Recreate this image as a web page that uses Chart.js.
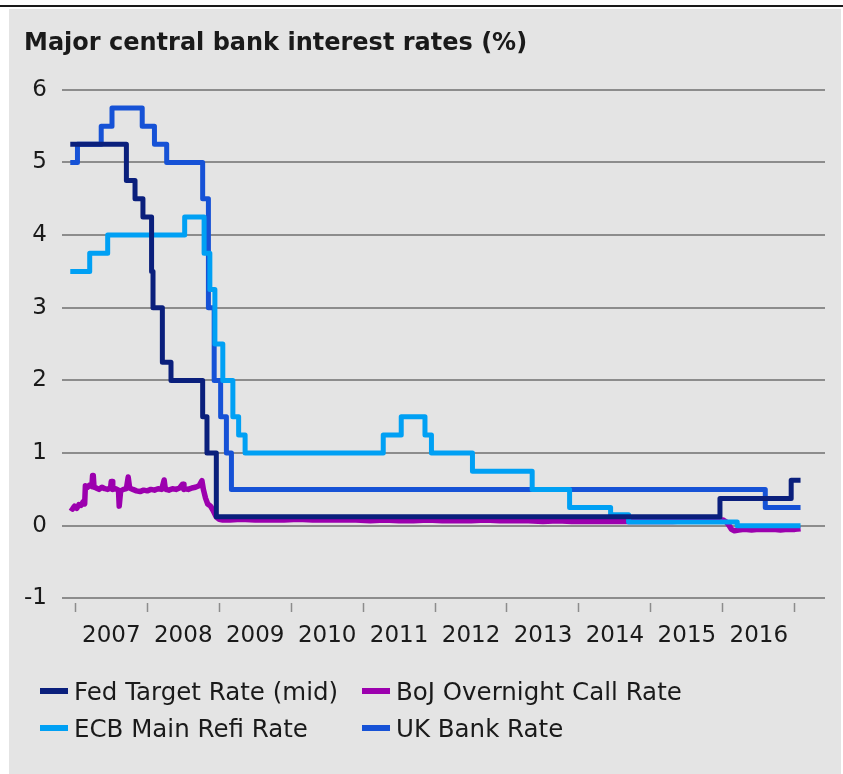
<!DOCTYPE html>
<html>
<head>
<meta charset="utf-8">
<script src="https://cdn.jsdelivr.net/npm/chart.js@4"></script>
<style>
  html, body { margin: 0; padding: 0; background: #fff; }
  #wrap { position: relative; width: 843px; height: 774px; }
  #legend {
    position: absolute; left: 40px; top: 677px;
    display: grid; grid-template-columns: 322px auto; row-gap: 9px;
    font-family: "DejaVu Sans", sans-serif; font-size: 24.5px; color: #1a1a1a;
  }
  .item { display: flex; align-items: center; height: 28px; white-space: nowrap; }
  .swatch { width: 28px; height: 6px; margin-right: 6px; }
</style>
</head>
<body>
<div id="wrap">
  <canvas id="myChart" width="843" height="774"></canvas>
  <div id="legend"></div>
</div>
<script>
// x values are decimal years (2008.5 = mid 2008)
const years = [2007, 2008, 2009, 2010, 2011, 2012, 2013, 2014, 2015, 2016, 2017];

// Fed Target Rate (mid) - date of change, new rate
const fedDates = [2006.93, 2007.71, 2007.83, 2007.94, 2008.06, 2008.08, 2008.21, 2008.33, 2008.77, 2008.83, 2008.96, 2015.96, 2016.95, 2017.08];
const fedRates = [5.25, 4.75, 4.5, 4.25, 3.5, 3.0, 2.25, 2.0, 1.5, 1.0, 0.125, 0.375, 0.625, 0.625];

// ECB Main Refi Rate
const ecbDates = [2006.93, 2007.20, 2007.45, 2008.52, 2008.79, 2008.87, 2008.94, 2009.05, 2009.19, 2009.27, 2009.36, 2011.28, 2011.53, 2011.86, 2011.95, 2012.52, 2013.35, 2013.87, 2014.44, 2014.69, 2016.20, 2017.08];
const ecbRates = [3.5, 3.75, 4.0, 4.25, 3.75, 3.25, 2.5, 2.0, 1.5, 1.25, 1.0, 1.25, 1.5, 1.25, 1.0, 0.75, 0.5, 0.25, 0.15, 0.05, 0.0, 0.0];

// UK Bank Rate
const ukDates = [2006.93, 2007.03, 2007.36, 2007.51, 2007.93, 2008.10, 2008.27, 2008.77, 2008.85, 2008.93, 2009.02, 2009.10, 2009.17, 2016.59, 2017.08];
const ukRates = [5.0, 5.25, 5.5, 5.75, 5.5, 5.25, 5.0, 4.5, 3.0, 2.0, 1.5, 1.0, 0.5, 0.25, 0.25];

// BoJ Overnight Call Rate (noisy market rate)
const bojDates = [2006.93, 2006.96, 2006.99, 2007.02, 2007.05, 2007.08, 2007.11, 2007.13, 2007.14, 2007.17, 2007.20, 2007.23, 2007.24, 2007.25, 2007.26, 2007.29, 2007.33, 2007.37, 2007.41, 2007.45, 2007.49, 2007.50, 2007.51, 2007.52, 2007.56, 2007.60, 2007.61, 2007.62, 2007.63, 2007.67, 2007.71, 2007.735, 2007.745, 2007.755, 2007.80, 2007.85, 2007.90, 2007.95, 2008.00, 2008.05, 2008.10, 2008.15, 2008.20, 2008.235, 2008.24, 2008.25, 2008.26, 2008.30, 2008.35, 2008.40, 2008.45, 2008.49, 2008.50, 2008.51, 2008.52, 2008.57, 2008.62, 2008.67, 2008.72, 2008.76, 2008.78, 2008.81, 2008.84, 2008.88, 2008.92, 2008.96, 2009.00, 2009.05, 2009.15, 2009.30, 2009.50, 2009.70, 2009.90, 2010.10, 2010.30, 2010.50, 2010.70, 2010.90, 2011.10, 2011.30, 2011.50, 2011.70, 2011.90, 2012.10, 2012.30, 2012.50, 2012.70, 2012.90, 2013.10, 2013.30, 2013.50, 2013.70, 2013.90, 2014.10, 2014.30, 2014.50, 2014.70, 2014.90, 2015.10, 2015.30, 2015.50, 2015.70, 2015.90, 2016.00, 2016.05, 2016.09, 2016.12, 2016.16, 2016.22, 2016.30, 2016.40, 2016.50, 2016.60, 2016.70, 2016.80, 2016.90, 2017.00, 2017.08];
const bojRates = [0.25, 0.23, 0.27, 0.24, 0.29, 0.28, 0.33, 0.30, 0.55, 0.53, 0.56, 0.54, 0.69, 0.69, 0.53, 0.52, 0.50, 0.53, 0.51, 0.50, 0.52, 0.61, 0.61, 0.50, 0.51, 0.49, 0.27, 0.27, 0.48, 0.50, 0.51, 0.67, 0.67, 0.52, 0.50, 0.48, 0.47, 0.49, 0.48, 0.50, 0.49, 0.51, 0.50, 0.63, 0.63, 0.51, 0.50, 0.49, 0.51, 0.50, 0.52, 0.57, 0.57, 0.50, 0.51, 0.50, 0.52, 0.53, 0.55, 0.62, 0.50, 0.38, 0.30, 0.27, 0.20, 0.12, 0.09, 0.08, 0.08, 0.09, 0.08, 0.08, 0.08, 0.09, 0.08, 0.08, 0.08, 0.08, 0.07, 0.08, 0.07, 0.07, 0.08, 0.07, 0.07, 0.07, 0.08, 0.07, 0.07, 0.07, 0.06, 0.07, 0.06, 0.06, 0.06, 0.06, 0.06, 0.06, 0.06, 0.06, 0.07, 0.07, 0.07, 0.08, 0.05, 0.00, -0.05, -0.07, -0.06, -0.05, -0.06, -0.05, -0.05, -0.05, -0.06, -0.05, -0.05, -0.04];

const seriesNames = ['Fed Target Rate (mid)', 'BoJ Overnight Call Rate', 'ECB Main Refi Rate', 'UK Bank Rate'];
const seriesColors = ['#0a1f7c', '#9c00ae', '#00a0f4', '#1652d6'];

const toPoints = (xs, ys) => xs.map((x, i) => ({ x: x, y: ys[i] }));

// panel background like the original report box
const panelBg = {
    id: 'panelBg',
    beforeDraw(chart) {
        const c = chart.ctx;
        c.save();
        c.fillStyle = '#ffffff';
        c.fillRect(0, 0, chart.width, chart.height);
        c.fillStyle = '#e4e4e4';
        c.fillRect(9, 9, chart.width - 11, chart.height - 9);
        c.fillStyle = '#1a1a1a';
        c.fillRect(0, 5, chart.width, 2);
        c.restore();
    }
};

const ctx = document.getElementById('myChart').getContext('2d');
new Chart(ctx, {
    type: 'line',
    data: {
        datasets: [{
            label: seriesNames[0],
            data: toPoints(fedDates, fedRates),
            borderColor: seriesColors[0],
            stepped: true,
            order: 0
        }, {
            label: seriesNames[1],
            data: toPoints(bojDates, bojRates),
            borderColor: seriesColors[1],
            borderWidth: 5.5,
            order: 2
        }, {
            label: seriesNames[2],
            data: toPoints(ecbDates, ecbRates),
            borderColor: seriesColors[2],
            stepped: true,
            order: 1
        }, {
            label: seriesNames[3],
            data: toPoints(ukDates, ukRates),
            borderColor: seriesColors[3],
            stepped: true,
            order: 3
        }]
    },
    options: {
        responsive: false,
        animation: false,
        events: [],
        elements: {
            point: { radius: 0 },
            line: { borderWidth: 5, borderJoinStyle: 'round', fill: false, tension: 0 }
        },
        layout: { padding: { left: 24, right: 18, top: 29, bottom: 114 } },
        plugins: {
            legend: { display: false },
            tooltip: { enabled: false },
            title: {
                display: true,
                text: 'Major central bank interest rates (%)',
                align: 'start',
                color: '#1a1a1a',
                font: { family: 'DejaVu Sans', size: 24, weight: 'bold' },
                padding: { top: 0, bottom: 32 }
            }
        },
        scales: {
            x: {
                type: 'linear',
                min: 2006.815,
                max: 2017.42,
                afterBuildTicks: axis => { axis.ticks = years.map(v => ({ value: v })); },
                border: { display: false },
                grid: {
                    drawOnChartArea: false,
                    drawTicks: true,
                    tickLength: 14,
                    tickColor: '#8c8c8c',
                    tickWidth: 1.5,
                    tickBorderDash: [0, 5, 9, 100]
                },
                ticks: {
                    autoSkip: false,
                    maxRotation: 0,
                    padding: 10,
                    labelOffset: 36,
                    color: '#1a1a1a',
                    font: { family: 'DejaVu Sans', size: 23 },
                    callback: v => (v < 2017 ? String(v) : '')
                }
            },
            y: {
                min: -1,
                max: 6,
                border: { display: false },
                grid: { color: '#8c8c8c', lineWidth: 2, drawTicks: false },
                afterFit: axis => { axis.width = 38; },
                ticks: {
                    stepSize: 1,
                    padding: 15,
                    color: '#1a1a1a',
                    font: { family: 'DejaVu Sans', size: 23 }
                }
            }
        }
    },
    plugins: [panelBg]
});

// two-column legend like the original
const legend = document.getElementById('legend');
seriesNames.forEach((name, i) => {
    const item = document.createElement('div');
    item.className = 'item';
    const sw = document.createElement('span');
    sw.className = 'swatch';
    sw.style.background = seriesColors[i];
    item.appendChild(sw);
    item.appendChild(document.createTextNode(name));
    legend.appendChild(item);
});
</script>
</body>
</html>
